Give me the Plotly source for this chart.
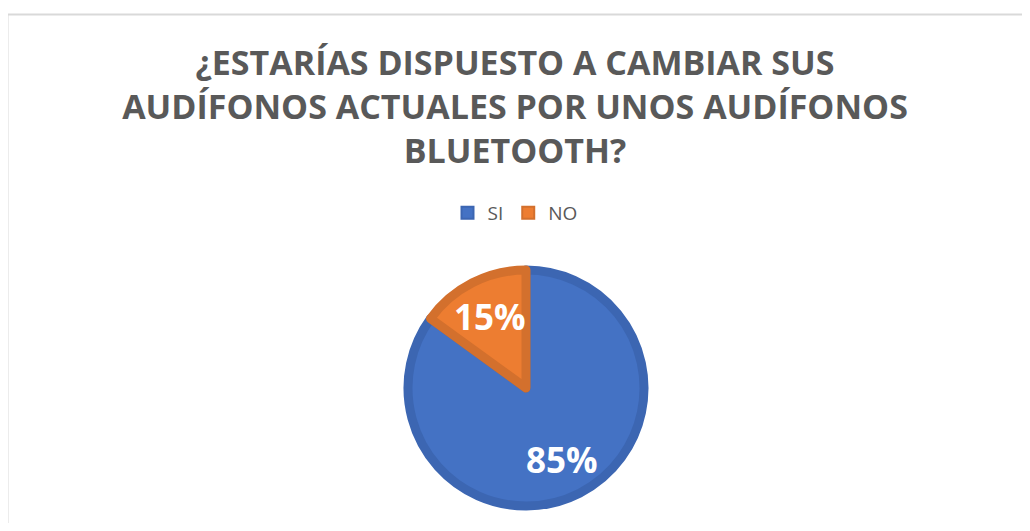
"""Excel-style pie: willingness to switch to bluetooth headphones."""
import math

import plotly.graph_objects as go

TITLE_LINES = [
    "¿ESTARÍAS DISPUESTO A CAMBIAR SUS",
    "AUDÍFONOS ACTUALES POR UNOS AUDÍFONOS",
    "BLUETOOTH?",
]
LABELS = ["SI", "NO"]
VALUES = [85, 15]

FILL = ["#4472C4", "#ED7D31"]
EDGE = ["#3C66B2", "#D3702D"]
GRAY = "#595959"

# the page body has an 8px margin, so the figure is a bit smaller than the window
OFF = 8
W, H = 1030 - 2 * OFF, 531 - 2 * OFF

# pie placement (page pixels)
CX, CY, R = 526 - OFF, 388 - OFF, 118


def px_x(x):
    return x / W


def px_y(y):
    return 1 - y / H


fig = go.Figure()
fig.add_trace(
    go.Pie(
        labels=LABELS,
        values=VALUES,
        sort=False,
        direction="clockwise",
        rotation=0,
        textinfo="none",
        hoverinfo="label+percent",
        marker={"colors": FILL, "line": {"color": EDGE, "width": 9}},
        domain={"x": [px_x(CX - R), px_x(CX + R)], "y": [px_y(CY + R), px_y(CY - R)]},
    )
)

# percentage labels along each slice's mid angle
total = sum(VALUES)
start = 0.0
annotations = []
for v in VALUES:
    frac = v / total
    mid = (start + frac / 2) * 2 * math.pi
    start += frac
    lx = CX + 0.68 * R * math.sin(mid)
    ly = CY - 0.68 * R * math.cos(mid)
    annotations.append(
        dict(
            x=px_x(lx), y=px_y(ly), xref="paper", yref="paper",
            xanchor="center", yanchor="middle",
            text=f"<b>{round(frac * 100)}%</b>", showarrow=False,
            font={"family": "Open Sans", "size": 35, "color": "white"},
        )
    )

fig.update_layout(
    width=W,
    height=H,
    margin={"l": 0, "r": 0, "t": 0, "b": 0},
    paper_bgcolor="white",
    plot_bgcolor="white",
    title={
        "text": "<b>" + "<br>".join(TITLE_LINES) + "</b>",
        "x": 0.5, "xanchor": "center",
        "y": px_y(75 - OFF), "yanchor": "middle",
        "font": {"family": "Open Sans", "size": 34, "color": GRAY},
    },
    showlegend=True,
    legend={
        "orientation": "h",
        "x": 0.5, "xanchor": "center",
        "y": px_y(213 - OFF), "yanchor": "middle",
        "font": {"family": "Open Sans", "size": 19, "color": GRAY},
        "itemsizing": "constant",
    },
    annotations=annotations,
    shapes=[
        dict(
            type="rect", xref="paper", yref="paper",
            x0=px_x(7.5 - OFF), x1=1.02, y0=-0.02, y1=px_y(14.5 - OFF),
            line={"color": "#D9D9D9", "width": 2}, fillcolor="rgba(0,0,0,0)",
            layer="below",
        )
    ],
)

fig.write_html("out.html")
